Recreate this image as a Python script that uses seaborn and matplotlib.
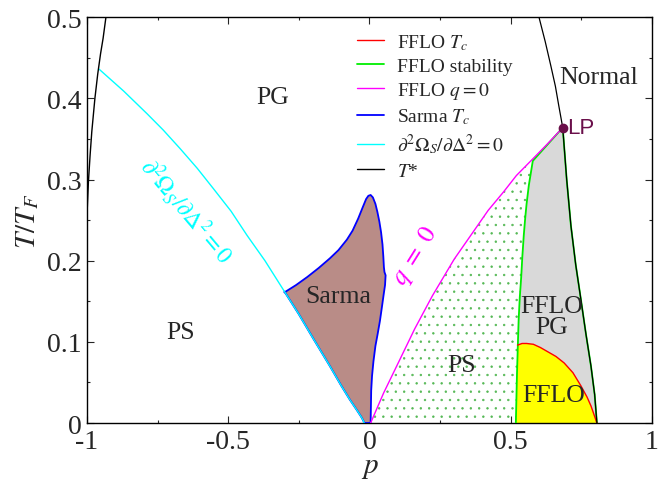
import matplotlib
matplotlib.use("Agg")
import matplotlib.pyplot as plt
import seaborn as sns
import numpy as np

# ---- curves (p, T/T_F) ----
tstar_left_p = [-1.0, -0.995, -0.989, -0.983, -0.972, -0.962, -0.952, -0.943, -0.933]
tstar_left_T = [0.256, 0.297, 0.330, 0.359, 0.400, 0.430, 0.455, 0.474, 0.5]

tstar_right_p = [0.600, 0.622, 0.642, 0.658, 0.670, 0.684, 0.698, 0.713, 0.730, 0.748, 0.766, 0.784, 0.797, 0.805]
tstar_right_T = [0.5, 0.47, 0.44, 0.415, 0.391, 0.364, 0.300, 0.243, 0.195, 0.153, 0.110, 0.070, 0.035, 0.0]

spin_p = [-0.957, -0.870, -0.787, -0.730, -0.670, -0.610, -0.553, -0.490, -0.433, -0.370, -0.301,
          -0.250, -0.199, -0.140, -0.100, -0.070, -0.045, -0.030, -0.022, -0.019]
spin_T = [0.436, 0.409, 0.381, 0.361, 0.338, 0.314, 0.289, 0.261, 0.231, 0.200, 0.162,
          0.134, 0.104, 0.070, 0.046, 0.029, 0.016, 0.008, 0.003, 0.0]

sarma_p = [-0.301, -0.260, -0.220, -0.180, -0.140, -0.110, -0.080, -0.060, -0.040, -0.025, -0.012,
           -0.004, 0.004, 0.012, 0.021, 0.028, 0.035, 0.041, 0.046, 0.049, 0.051, 0.053, 0.057,
           0.055, 0.050, 0.044, 0.037, 0.029, 0.021, 0.014, 0.009, 0.006, 0.005, 0.004]
sarma_T = [0.161, 0.170, 0.180, 0.191, 0.203, 0.213, 0.226, 0.237, 0.252, 0.265, 0.276,
           0.280, 0.281, 0.278, 0.270, 0.260, 0.248, 0.235, 0.220, 0.205, 0.192, 0.186, 0.182,
           0.170, 0.158, 0.143, 0.126, 0.110, 0.095, 0.076, 0.058, 0.040, 0.020, 0.0]

stab_left_p = [0.518, 0.520, 0.522, 0.525, 0.528, 0.532, 0.537, 0.541, 0.546, 0.551, 0.556, 0.564, 0.578]
stab_left_T = [0.0, 0.030, 0.060, 0.095, 0.128, 0.155, 0.180, 0.205, 0.231, 0.252, 0.270, 0.293, 0.323]

q0_p = [0.004, 0.050, 0.103, 0.160, 0.223, 0.300, 0.370, 0.420, 0.475, 0.520, 0.571, 0.630, 0.684]
q0_T = [0.0, 0.037, 0.075, 0.116, 0.157, 0.202, 0.237, 0.262, 0.285, 0.305, 0.323, 0.344, 0.364]

fflo_p = [0.524, 0.540, 0.556, 0.580, 0.605, 0.630, 0.660, 0.689, 0.720, 0.748, 0.770, 0.784, 0.796, 0.805]
fflo_T = [0.096, 0.098, 0.098, 0.097, 0.093, 0.088, 0.082, 0.074, 0.062, 0.046, 0.032, 0.021, 0.009, 0.0]

lp_p, lp_T = 0.684, 0.364

sns.set_style("ticks")
plt.rcParams['font.family'] = ['serif']
plt.rcParams['font.serif'] = ['Liberation Serif', 'DejaVu Serif']
plt.rcParams['mathtext.fontset'] = 'stix'
plt.rcParams['axes.unicode_minus'] = False
plt.rcParams['hatch.linewidth'] = 0.5

fig = plt.figure(figsize=(6.58, 4.81), dpi=100)
ax = fig.add_axes([0.1322, 0.1185, 0.8587, 0.8435])

# stability line = left part + right T* branch below LP
stab_p = stab_left_p + tstar_right_p[5:]
stab_T = stab_left_T + tstar_right_T[5:]

# Sarma region closed along the spinodal line
n = spin_p.index(-0.301)
sar_x = sarma_p + spin_p[n:][::-1]
sar_y = sarma_T + spin_T[n:][::-1]

# filled regions
ax.fill(stab_p, stab_T, color='#d9d9d9', lw=0, zorder=1)
ax.fill([stab_left_p[0]] + fflo_p, [0.0] + fflo_T, color='#ffff00', lw=0, zorder=1.5)
ax.fill(sar_x, sar_y, color='#b98c87', lw=0, zorder=1)
ax.fill(q0_p[:-2] + stab_left_p[::-1], q0_T[:-2] + stab_left_T[::-1],
        facecolor='none', edgecolor='#55b855', hatch='..', lw=0, zorder=1)

# lines
sns.lineplot(x=sar_x, y=sar_y, sort=False, estimator=None, color='#0000ff', lw=1.3,
             ax=ax, label=r'Sarma $T_c$', zorder=3)
sns.lineplot(x=spin_p, y=spin_T, sort=False, estimator=None, color='#00ffff', lw=1.0,
             ax=ax, label=r'$\partial^2\Omega_S/\partial\Delta^2=0$', zorder=4)
sns.lineplot(x=stab_p, y=stab_T, sort=False, estimator=None, color='#00ee00', lw=1.3,
             ax=ax, label='FFLO stability', zorder=3)
sns.lineplot(x=q0_p, y=q0_T, sort=False, estimator=None, color='#ff00ff', lw=1.0,
             ax=ax, label=r'FFLO $q=0$', zorder=4)
sns.lineplot(x=fflo_p, y=fflo_T, sort=False, estimator=None, color='#ff0000', lw=1.0,
             ax=ax, label=r'FFLO $T_c$', zorder=4)
sns.lineplot(x=tstar_left_p, y=tstar_left_T, sort=False, estimator=None, color='black',
             lw=1.0, ax=ax, label=r'$T$*', zorder=4)
sns.lineplot(x=tstar_right_p, y=tstar_right_T, sort=False, estimator=None, color='black',
             lw=0.9, ax=ax, zorder=4)
ax.plot([lp_p], [lp_T], 'o', color='#6a0f4a', ms=6, zorder=5)

# legend in the reference order
h, l = ax.get_legend_handles_labels()
order = [r'FFLO $T_c$', 'FFLO stability', r'FFLO $q=0$', r'Sarma $T_c$',
         r'$\partial^2\Omega_S/\partial\Delta^2=0$', r'$T$*']
hd = dict(zip(l, h))
ax.legend([hd[k] for k in order], order, loc='upper left', bbox_to_anchor=(0.477, 0.964),
          frameon=False, fontsize=14, borderpad=0, borderaxespad=0, handlelength=1.4,
          handletextpad=0.7, labelspacing=0.28)

# region labels
fs = 18.5
ax.text(-0.344, 0.402, 'PG', fontsize=fs, ha='center', va='center')
ax.text(-0.670, 0.112, 'PS', fontsize=fs, ha='center', va='center')
ax.text(-0.110, 0.157, 'Sarma', fontsize=fs, ha='center', va='center', zorder=6)
ax.text(0.326, 0.072, 'PS', fontsize=fs, ha='center', va='center', zorder=6)
ax.text(0.645, 0.131, 'FFLO\nPG', fontsize=fs, ha='center', va='center', linespacing=0.95, zorder=6)
ax.text(0.652, 0.035, 'FFLO', fontsize=fs, ha='center', va='center', zorder=6)
ax.text(0.81, 0.427, 'Normal', fontsize=fs, ha='center', va='center')
ax.text(0.700, 0.364, 'LP', fontsize=16, ha='left', va='center', color='#6a0f4a',
        family=['Liberation Sans', 'DejaVu Sans'])
ax.text(0.165, 0.207, r'$q\ =\ 0$', fontsize=18.5, color='#ff00ff', rotation=58,
        ha='center', va='center')
ax.text(-0.648, 0.262, r'$\partial^2\Omega_S/\partial\Delta^2=0$', fontsize=17,
        color='#00ffff', rotation=-50, ha='center', va='center')

ax.set_xlim(-1, 1)
ax.set_ylim(0, 0.5)
ax.set_xticks([-1, -0.5, 0, 0.5, 1])
ax.set_xticklabels(['-1', '-0.5', '0', '0.5', '1'])
ax.set_yticks([0, 0.1, 0.2, 0.3, 0.4, 0.5])
ax.set_yticklabels(['0', '0.1', '0.2', '0.3', '0.4', '0.5'])
ax.set_xticks(np.arange(-1, 1.01, 0.25), minor=True)
ax.set_yticks(np.arange(0, 0.51, 0.05), minor=True)
ax.tick_params(which='both', direction='in', top=True, right=True, labelsize=20, width=0.8)
ax.tick_params(which='major', length=5, pad=4)
ax.tick_params(which='minor', length=2.5)
for s in ax.spines.values():
    s.set_linewidth(1.0)
    s.set_color('black')

ax.set_xlabel(r'$p$', fontsize=21, labelpad=0)
ax.set_ylabel(r'$T/T_F$', fontsize=21, labelpad=4)

fig.savefig('out.png', dpi=100)
